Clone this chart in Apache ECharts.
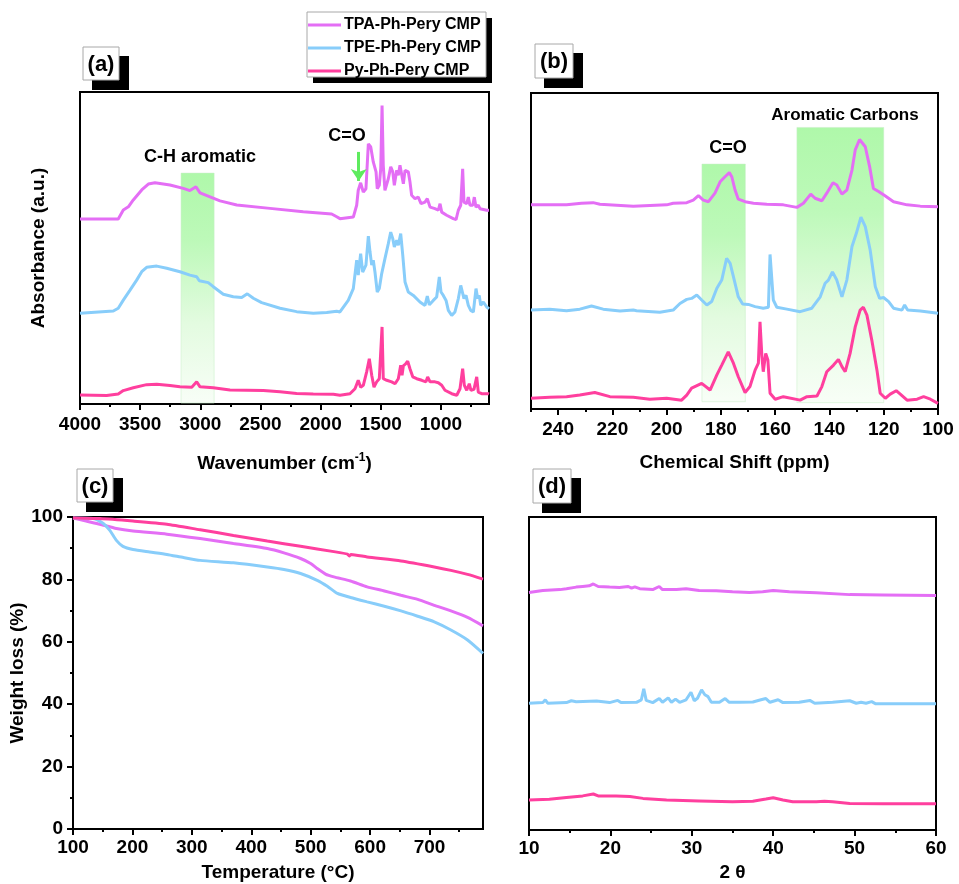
<!DOCTYPE html>
<html>
<head>
<meta charset="utf-8">
<script src="https://cdn.jsdelivr.net/npm/echarts@6/dist/echarts.min.js"></script>
<style>
html,body{margin:0;padding:0;background:#fff;}
#chart{width:959px;height:884px;}
</style>
</head>
<body>
<div id="chart"></div>
<script>
// ---- Series names ----
const seriesNames = ['TPA-Ph-Pery CMP', 'TPE-Ph-Pery CMP', 'Py-Ph-Pery CMP'];

// ---- (a) FT-IR: [wavenumber cm-1, absorbance (offset, a.u.)] ----
const ftirTPA = [[4000,59.3],[3682,59.3],[3640,62.2],[3598,63.2],[3557,65.4],[3487,68.6],[3432,70.5],[3377,70.9],[3252,70.2],[3141,69.1],[3086,68.4],[3036,69.6],[3002,67.7],[2919,66.4],[2836,65.1],[2697,63.8],[2421,62.7],[2144,61.6],[1908,60.9],[1866,60.0],[1839,59.4],[1728,59.9],[1700,63.7],[1687,68.5],[1667,70.9],[1645,67.9],[1623,69.0],[1603,83.4],[1583,82.4],[1562,77.6],[1539,74.4],[1529,69.0],[1512,70.1],[1500,75.4],[1489,95.7],[1479,76.5],[1465,68.5],[1437,72.2],[1417,76.0],[1400,74.4],[1387,70.1],[1367,74.9],[1354,73.3],[1340,76.5],[1326,77.0],[1312,70.6],[1298,74.9],[1271,74.4],[1257,71.2],[1243,66.9],[1215,65.8],[1188,66.3],[1165,64.2],[1132,64.7],[1113,65.8],[1090,63.1],[1049,62.6],[1021,62.1],[1007,64.2],[993,61.5],[952,60.5],[897,59.4],[874,59.1],[855,62.1],[835,63.7],[819,75.4],[808,64.7],[785,64.2],[772,66.3],[758,63.7],[735,63.7],[722,66.3],[708,63.1],[689,63.7],[675,62.6],[619,62.1],[600,62.1]];
const ftirTPE = [[4000,29.1],[3723,29.8],[3682,30.7],[3640,33.3],[3584,36.5],[3529,39.7],[3487,42.4],[3446,43.8],[3362,44.2],[3279,43.5],[3169,42.4],[3086,41.3],[3030,40.8],[3008,39.5],[2934,38.9],[2892,37.6],[2809,35.2],[2726,34.4],[2656,34.1],[2609,35.3],[2559,33.9],[2490,32.5],[2337,30.7],[2199,29.6],[2061,29.1],[1949,29.3],[1866,29.7],[1839,29.5],[1770,33.2],[1728,37.0],[1700,46.1],[1687,41.3],[1667,48.2],[1650,42.3],[1623,44.5],[1603,53.8],[1589,48.7],[1575,44.5],[1562,46.1],[1548,42.3],[1529,35.9],[1512,37.0],[1492,41.8],[1465,46.6],[1437,51.4],[1417,55.1],[1400,53.0],[1387,50.3],[1367,52.5],[1354,50.9],[1334,54.6],[1317,47.7],[1298,39.1],[1271,35.9],[1229,34.8],[1174,32.7],[1132,31.6],[1113,34.6],[1096,31.8],[1063,33.2],[1035,34.3],[1013,40.7],[999,35.9],[980,34.8],[957,33.2],[938,30.0],[910,28.4],[883,29.5],[855,33.8],[835,38.0],[819,38.0],[808,33.8],[791,34.8],[772,31.6],[752,30.0],[730,29.5],[708,37.0],[694,33.8],[681,34.8],[669,31.6],[647,32.7],[619,31.1],[600,30.5]];
const ftirPy = [[4000,2.9],[3778,2.7],[3682,3.2],[3640,4.3],[3557,5.2],[3446,6.2],[3362,6.3],[3252,5.9],[3169,5.5],[3071,5.4],[3030,7.1],[3002,5.5],[2892,5.2],[2753,4.5],[2476,4.3],[2337,3.9],[2199,3.4],[2061,3.2],[1894,3.1],[1839,2.8],[1756,3.3],[1714,4.9],[1687,7.6],[1667,5.4],[1645,6.0],[1617,10.3],[1595,14.5],[1575,9.2],[1556,5.4],[1534,7.1],[1512,8.1],[1489,24.7],[1479,8.1],[1450,7.6],[1409,7.1],[1381,6.5],[1354,8.1],[1334,12.4],[1323,9.2],[1312,12.2],[1292,12.9],[1276,13.7],[1257,11.3],[1234,8.7],[1201,8.1],[1159,7.6],[1124,7.1],[1110,8.7],[1090,7.1],[1049,7.1],[1021,6.8],[993,6.0],[966,4.4],[910,3.3],[868,2.8],[841,4.9],[819,11.3],[805,6.0],[785,4.4],[764,6.5],[750,4.4],[725,4.7],[702,8.7],[689,3.8],[661,3.3],[606,3.3],[600,3.2]];

// ---- (b) 13C NMR: [chemical shift ppm, intensity (offset)] ----
const nmrTPA = [[250,64.6],[236.9,64.6],[231.4,65.1],[227.1,65.3],[224.6,64.8],[212.3,64.2],[200,64.6],[197.6,65.1],[192.6,65.3],[190.2,66.1],[188.3,67.5],[186.5,66.1],[184.6,65.6],[182.2,68.3],[180.3,71.9],[178.5,73.5],[176.9,74.8],[176,73.5],[174.8,69.3],[173.6,66.4],[171.1,65.6],[168,65.1],[163.1,64.8],[157,64.6],[152,63.8],[149.6,65.1],[146.9,68.0],[145.3,66.7],[142.8,65.9],[141,68.3],[138.7,71.6],[137.3,70.9],[135.4,68.0],[133.6,69.3],[131.7,75.6],[130.5,82.0],[128.9,85.3],[126.8,83.0],[125.2,76.7],[123.8,69.8],[121.9,68.8],[119.4,67.4],[116.4,65.6],[111.4,64.6],[106.5,64.2],[100,64.0]];
const nmrTPE = [[250,31.3],[243.1,31.6],[236.9,31.1],[232,31.6],[227.7,32.6],[223.4,31.6],[217.2,31.0],[212.3,31.3],[211.7,31.9],[211.1,31.1],[202.5,30.6],[197.6,31.3],[195.1,33.4],[192.6,34.7],[190.8,35.0],[188.9,36.1],[187.1,34.5],[185.2,32.9],[183.4,34.0],[181.5,38.2],[179.7,40.8],[177.9,47.7],[176.6,46.1],[175.4,41.9],[173.6,35.5],[172,33.2],[169.9,33.1],[167.4,32.4],[164.4,31.9],[162.5,32.2],[161.9,48.9],[161.3,48.9],[160.7,34.5],[159.4,32.2],[155.7,31.6],[150.8,30.8],[146.5,31.9],[143.4,35.5],[141.6,39.8],[140.4,40.8],[138.9,43.4],[137.3,40.8],[135.4,35.5],[133.6,40.8],[131.7,51.4],[130.1,55.6],[128.4,60.7],[126.8,57.7],[125,50.3],[123.1,38.7],[121.5,35.0],[120.1,35.3],[118.2,34.0],[116.4,31.9],[113.3,31.3],[112.3,32.9],[111.2,31.3],[106.5,31.0],[100,30.3]];
const nmrPy = [[250,3.4],[243.1,3.7],[236.9,3.9],[232,4.4],[226.5,5.2],[220.9,3.9],[212.3,3.7],[206.2,3.1],[200,3.4],[194.5,2.8],[192.6,4.4],[190.8,6.6],[187.1,8.1],[184,6.0],[181.5,10.8],[179.7,13.9],[177.3,18.1],[175.4,14.5],[173.6,10.2],[171.1,5.2],[169.3,7.1],[167.4,12.3],[166.2,14.5],[165.6,27.6],[164.9,16.6],[164.4,11.8],[163.5,17.6],[162.7,15.5],[161.9,5.0],[160,3.1],[157,3.9],[150.8,2.8],[148.3,3.9],[144.6,4.1],[142.8,7.1],[141,11.8],[138.5,13.9],[136.7,15.7],[135.4,13.4],[134.2,11.8],[132.4,17.6],[130.5,26.0],[128.7,31.3],[127.5,32.2],[126.2,29.7],[124.4,21.8],[122.5,12.3],[121.3,5.0],[119.4,3.4],[117.6,4.7],[115.4,5.8],[113.9,4.7],[111.4,2.8],[107.7,3.1],[105.3,3.9],[102.8,3.1],[100,1.8]];

// ---- (c) TGA: [temperature °C, weight %] ----
const tgaTPA = [[100,99.7],[122,98.7],[145,97.7],[173,96.3],[201,95.5],[258,94.5],[314,93.1],[370,91.5],[427,89.9],[455,88.5],[483,86.7],[500,85.1],[511,83.5],[525,81.7],[539,80.8],[567,79.5],[595,77.6],[624,76.3],[652,74.9],[680,73.6],[708,71.7],[736,69.9],[764,67.8],[790,65.1]];
const tgaTPE = [[100,99.7],[134,99.5],[151,97.9],[162,95.7],[173,92.5],[184,90.6],[201,89.6],[229,88.8],[258,88.0],[286,87.0],[314,86.1],[370,85.3],[427,84.0],[455,83.2],[483,81.9],[511,79.7],[528,77.8],[545,75.5],[567,74.2],[595,72.8],[624,71.4],[652,69.9],[680,68.2],[708,66.4],[736,63.8],[764,60.6],[790,56.3]];
const tgaPy = [[100,99.7],[145,99.5],[201,98.7],[258,97.7],[314,95.9],[370,94.1],[427,92.3],[483,90.6],[539,88.9],[562,88.1],[565,87.5],[568,88.0],[595,87.2],[652,85.9],[708,84.0],[736,82.9],[764,81.6],[790,80.1]];

// ---- (d) PXRD: [2θ degree, intensity (offset)] ----
const xrdTPA = [[10,75.9],[11.7,76.5],[13.8,76.8],[14.6,77.1],[15.8,77.6],[16.6,77.8],[17.4,78.0],[17.9,78.6],[18.5,77.8],[19.9,77.6],[21.1,77.5],[22.2,77.8],[22.6,77.3],[23.0,77.7],[23.6,77.1],[25.2,76.8],[26.0,77.8],[26.4,76.8],[28.1,76.8],[29.3,77.1],[30.9,76.5],[33.0,76.4],[35.0,76.1],[37.1,75.9],[38.7,76.1],[40.0,76.5],[42.0,76.1],[45.3,75.8],[49.4,75.2],[53.5,75.1],[60,74.9]];
const xrdTPE = [[10,40.5],[11.7,40.7],[12.0,41.6],[12.3,40.5],[14.6,40.7],[15.2,41.3],[15.8,41.0],[18.3,41.2],[19.9,40.7],[20.9,41.4],[21.3,40.7],[23.2,40.8],[23.8,41.6],[24.1,45.1],[24.4,41.4],[25.2,40.7],[26.0,42.0],[26.4,40.8],[27.1,42.2],[27.5,40.8],[28.0,41.8],[28.5,40.8],[29.3,41.6],[29.9,44.0],[30.3,41.3],[30.7,42.1],[31.2,44.8],[31.6,43.2],[32.0,42.6],[32.4,40.8],[33.4,40.8],[34.1,42.0],[34.6,40.8],[35.9,40.8],[37.5,40.9],[38.5,41.6],[39.1,42.0],[39.6,40.8],[40.6,41.6],[41.2,40.7],[43.2,40.8],[44.5,41.4],[45.1,40.5],[47.3,40.8],[49.4,41.3],[50.2,40.5],[50.8,40.8],[51.4,40.5],[52.1,41.0],[52.6,40.3],[60,40.3]];
const xrdPy = [[10,9.6],[12.5,9.8],[14.6,10.4],[16.6,10.9],[17.9,11.5],[18.5,10.9],[20.7,10.9],[22.4,10.7],[24.0,10.1],[26.9,9.6],[30.9,9.3],[35.0,9.0],[37.5,9.2],[39.1,9.9],[40.0,10.3],[41.2,9.6],[42.4,9.0],[45.3,9.0],[46.3,9.2],[47.3,9.0],[49.4,8.5],[53.5,8.4],[60,8.4]];

// ---- Tick values ----
const ftirTicks = [4000,3500,3000,2500,2000,1500,1000];
const ftirMinor = [3750,3250,2750,2250,1750,1250,750];
const nmrTicks = [240,220,200,180,160,140,120,100];
const nmrMinor = [250,230,210,190,170,150,130,110];
const tgaXTicks = [100,200,300,400,500,600,700];
const tgaXMinor = [150,250,350,450,550,650,750];
const tgaYTicks = [0,20,40,60,80,100];
const tgaYMinor = [10,30,50,70,90];
const xrdTicks = [10,20,30,40,50,60];
const xrdMinor = [15,25,35,45,55];

// ---- Highlighted regions ----
const irBandCH = [3160, 2885];
const nmrBandCO = [187, 171];
const nmrBandAr = [152, 120];
const irArrowCO = 1683;

const FONT = 'Arial, "Liberation Sans", sans-serif';
const COLORS = ['#E46EF5', '#88CDFA', '#FF3F9E'];

const chart = echarts.init(document.getElementById('chart'), null, {renderer: 'canvas'});

const grids = [
  {left: 80, top: 92, width: 409, height: 312},
  {left: 531, top: 93, width: 407, height: 316},
  {left: 73, top: 517, width: 410, height: 312},
  {left: 529, top: 517, width: 407, height: 313}
].map(g => Object.assign(g, {show: true, borderColor: '#000', borderWidth: 2, backgroundColor: 'transparent', outerBoundsMode: 'none', containLabel: false}));

const labelStyle = {color: '#000', fontSize: 19, fontWeight: 'bold', fontFamily: FONT};
const nameStyle = {color: '#000', fontSize: 19, fontWeight: 'bold', fontFamily: FONT};

// main axis with labels + major ticks, and a twin axis carrying only minor ticks
function axisPair(gridIndex, o) {
  const common = {gridIndex, type: 'value', min: o.min, max: o.max, inverse: !!o.inverse,
    position: o.position, splitLine: {show: false}, splitArea: {show: false}};
  const main = Object.assign({}, common, {
    axisLine: {show: true, onZero: false, lineStyle: {color: '#000', width: 2}},
    axisTick: o.major ? {show: true, inside: false, length: 6, customValues: o.major, lineStyle: {color: '#000', width: 2}} : {show: false},
    axisLabel: o.major ? Object.assign({show: true, customValues: o.major, margin: o.margin, hideOverlap: false,
      showMinLabel: true, showMaxLabel: true, formatter: v => String(v)}, labelStyle) : {show: false},
    name: o.name || '', nameLocation: 'middle', nameGap: o.nameGap || 0,
    nameTextStyle: o.nameTextStyle || nameStyle, nameMoveOverlap: false
  });
  const list = [main];
  if (o.minor) {
    list.push(Object.assign({}, common, {
      axisLine: {show: false, onZero: false},
      axisTick: {show: true, inside: false, length: 3, customValues: o.minor, lineStyle: {color: '#000', width: 2}},
      axisLabel: {show: false}
    }));
  }
  return list;
}

const xAxes = [
  ...axisPair(0, {min: 600, max: 4000, inverse: true, position: 'bottom', major: ftirTicks, minor: ftirMinor, margin: 11,
    name: '{t|Wavenumber (cm}{s|-1}{t|)}', nameGap: 48,
    nameTextStyle: {rich: {t: {fontSize: 19, fontWeight: 'bold', fontFamily: FONT, color: '#000', lineHeight: 24},
                           s: {fontSize: 12, fontWeight: 'bold', fontFamily: FONT, color: '#000', verticalAlign: 'top', lineHeight: 14}}}}),
  ...axisPair(1, {min: 100, max: 250, inverse: true, position: 'bottom', major: nmrTicks, minor: nmrMinor, margin: 11,
    name: 'Chemical Shift (ppm)', nameGap: 44}),
  ...axisPair(2, {min: 100, max: 790, position: 'bottom', major: tgaXTicks, minor: tgaXMinor, margin: 9,
    name: 'Temperature (°C)', nameGap: 34}),
  ...axisPair(3, {min: 10, max: 60, position: 'bottom', major: xrdTicks, minor: xrdMinor, margin: 9,
    name: '2 θ', nameGap: 33})
];
// xAxis indices: a=0(1), b=2(3), c=4(5), d=6(7)

const yAxes = [
  ...axisPair(0, {min: 0, max: 100, position: 'left', name: 'Absorbance (a.u.)', nameGap: 32}),
  ...axisPair(1, {min: 0, max: 100, position: 'left'}),
  ...axisPair(2, {min: 0, max: 100, position: 'left', major: tgaYTicks, minor: tgaYMinor, margin: 10,
    name: 'Weight loss (%)', nameGap: 46}),
  ...axisPair(3, {min: 0, max: 100, position: 'left'})
];
// yAxis indices: a=0, b=1, c=2(3), d=4

function line(name, data, xi, yi, color, smooth) {
  return {type: 'line', name, data, xAxisIndex: xi, yAxisIndex: yi, symbol: 'none', showSymbol: false,
    smooth: smooth || false, lineStyle: {color, width: 3}, itemStyle: {color}, z: 3, silent: true};
}

const bandFill = {
  type: 'linear', x: 0, y: 0, x2: 0, y2: 1,
  colorStops: [
    {offset: 0, color: '#aff8aa'},
    {offset: 0.3, color: '#bdf9b9'},
    {offset: 0.65, color: '#e3fbe0'},
    {offset: 1, color: '#f8fef7'}
  ]
};

const series = [
  // shaded band and C=O arrow in FT-IR panel
  {type: 'line', name: 'irMarks', data: [], xAxisIndex: 0, yAxisIndex: 0, symbol: 'none', silent: true,
    markArea: {silent: true, z: 1, itemStyle: {color: bandFill, borderColor: 'rgba(200,240,200,0.5)', borderWidth: 1},
      data: [[{xAxis: irBandCH[0], yAxis: 74}, {xAxis: irBandCH[1], yAxis: 0.3}]]},
    markLine: {silent: true, symbol: ['none', 'arrow'], symbolSize: 12, label: {show: false},
      lineStyle: {color: '#5EEB5E', width: 3, type: 'solid'},
      data: [[{coord: [irArrowCO, 80.8]}, {coord: [irArrowCO, 71.5]}]]}},
  // shaded bands in NMR panel
  {type: 'line', name: 'nmrMarks', data: [], xAxisIndex: 2, yAxisIndex: 1, symbol: 'none', silent: true,
    markArea: {silent: true, z: 1, itemStyle: {color: bandFill, borderColor: 'rgba(200,240,200,0.5)', borderWidth: 1},
      data: [[{xAxis: nmrBandCO[0], yAxis: 77.5}, {xAxis: nmrBandCO[1], yAxis: 2.3}],
             [{xAxis: nmrBandAr[0], yAxis: 89.1}, {xAxis: nmrBandAr[1], yAxis: 2.0}]]}},

  line(seriesNames[0], ftirTPA, 0, 0, COLORS[0]),
  line(seriesNames[1], ftirTPE, 0, 0, COLORS[1]),
  line(seriesNames[2], ftirPy, 0, 0, COLORS[2]),

  line(seriesNames[0], nmrTPA, 2, 1, COLORS[0]),
  line(seriesNames[1], nmrTPE, 2, 1, COLORS[1]),
  line(seriesNames[2], nmrPy, 2, 1, COLORS[2]),

  line(seriesNames[0], tgaTPA, 4, 2, COLORS[0], 0.2),
  line(seriesNames[1], tgaTPE, 4, 2, COLORS[1], 0.2),
  line(seriesNames[2], tgaPy, 4, 2, COLORS[2], 0.2),

  line(seriesNames[0], xrdTPA, 6, 4, COLORS[0]),
  line(seriesNames[1], xrdTPE, 6, 4, COLORS[1]),
  line(seriesNames[2], xrdPy, 6, 4, COLORS[2])
];

// panel tag: white framed box with a solid black drop block behind it
function panelTag(text, x, y, w, h) {
  return [
    {type: 'rect', shape: {x: x + 9, y: y + 9, width: w + 1, height: h + 1}, style: {fill: '#000'}, z: 0, silent: true},
    {type: 'rect', shape: {x, y, width: w, height: h}, style: {fill: '#fff', stroke: '#a8a8a8', lineWidth: 1}, z: 1, silent: true},
    {type: 'text', x: x + w / 2, y: y + h / 2 + 1, z: 2, silent: true,
      style: {text, fontSize: 22, fontWeight: 'bold', fontFamily: FONT, fill: '#000', align: 'center', verticalAlign: 'middle'}}
  ];
}

function note(text, x, y, size) {
  return {type: 'text', x, y, z: 6, silent: true,
    style: {text, fontSize: size, fontWeight: 'bold', fontFamily: FONT, fill: '#000', align: 'center', verticalAlign: 'middle'}};
}

const graphic = [
  // legend frame and drop block
  {type: 'rect', shape: {x: 313, y: 18, width: 179, height: 65}, style: {fill: '#000'}, z: 0, silent: true},
  {type: 'rect', shape: {x: 307, y: 12, width: 179, height: 65}, style: {fill: '#fff', stroke: '#a8a8a8', lineWidth: 1}, z: 1, silent: true},
  ...panelTag('(a)', 83, 47, 36, 33),
  ...panelTag('(b)', 535, 44, 38, 34),
  ...panelTag('(c)', 77, 469, 36, 33),
  ...panelTag('(d)', 533, 469, 38, 34),
  note('C-H aromatic', 200, 157, 18),
  note('C=O', 347, 136, 18),
  note('C=O', 728, 148, 18),
  note('Aromatic Carbons', 845, 115, 17)
];

chart.setOption({
  animation: false,
  backgroundColor: '#fff',
  grid: grids,
  xAxis: xAxes,
  yAxis: yAxes,
  legend: {
    data: seriesNames.map(n => ({name: n, icon: 'rect'})), orient: 'vertical', left: 308, top: 16, padding: 0,
    itemGap: 5, itemWidth: 33, itemHeight: 3, selectedMode: false, z: 10,
    textStyle: {color: '#000', fontSize: 16, fontWeight: 'bold', fontFamily: FONT, lineHeight: 18, padding: [0, 0, 0, -2]}
  },
  graphic,
  series
});
</script>
</body>
</html>
